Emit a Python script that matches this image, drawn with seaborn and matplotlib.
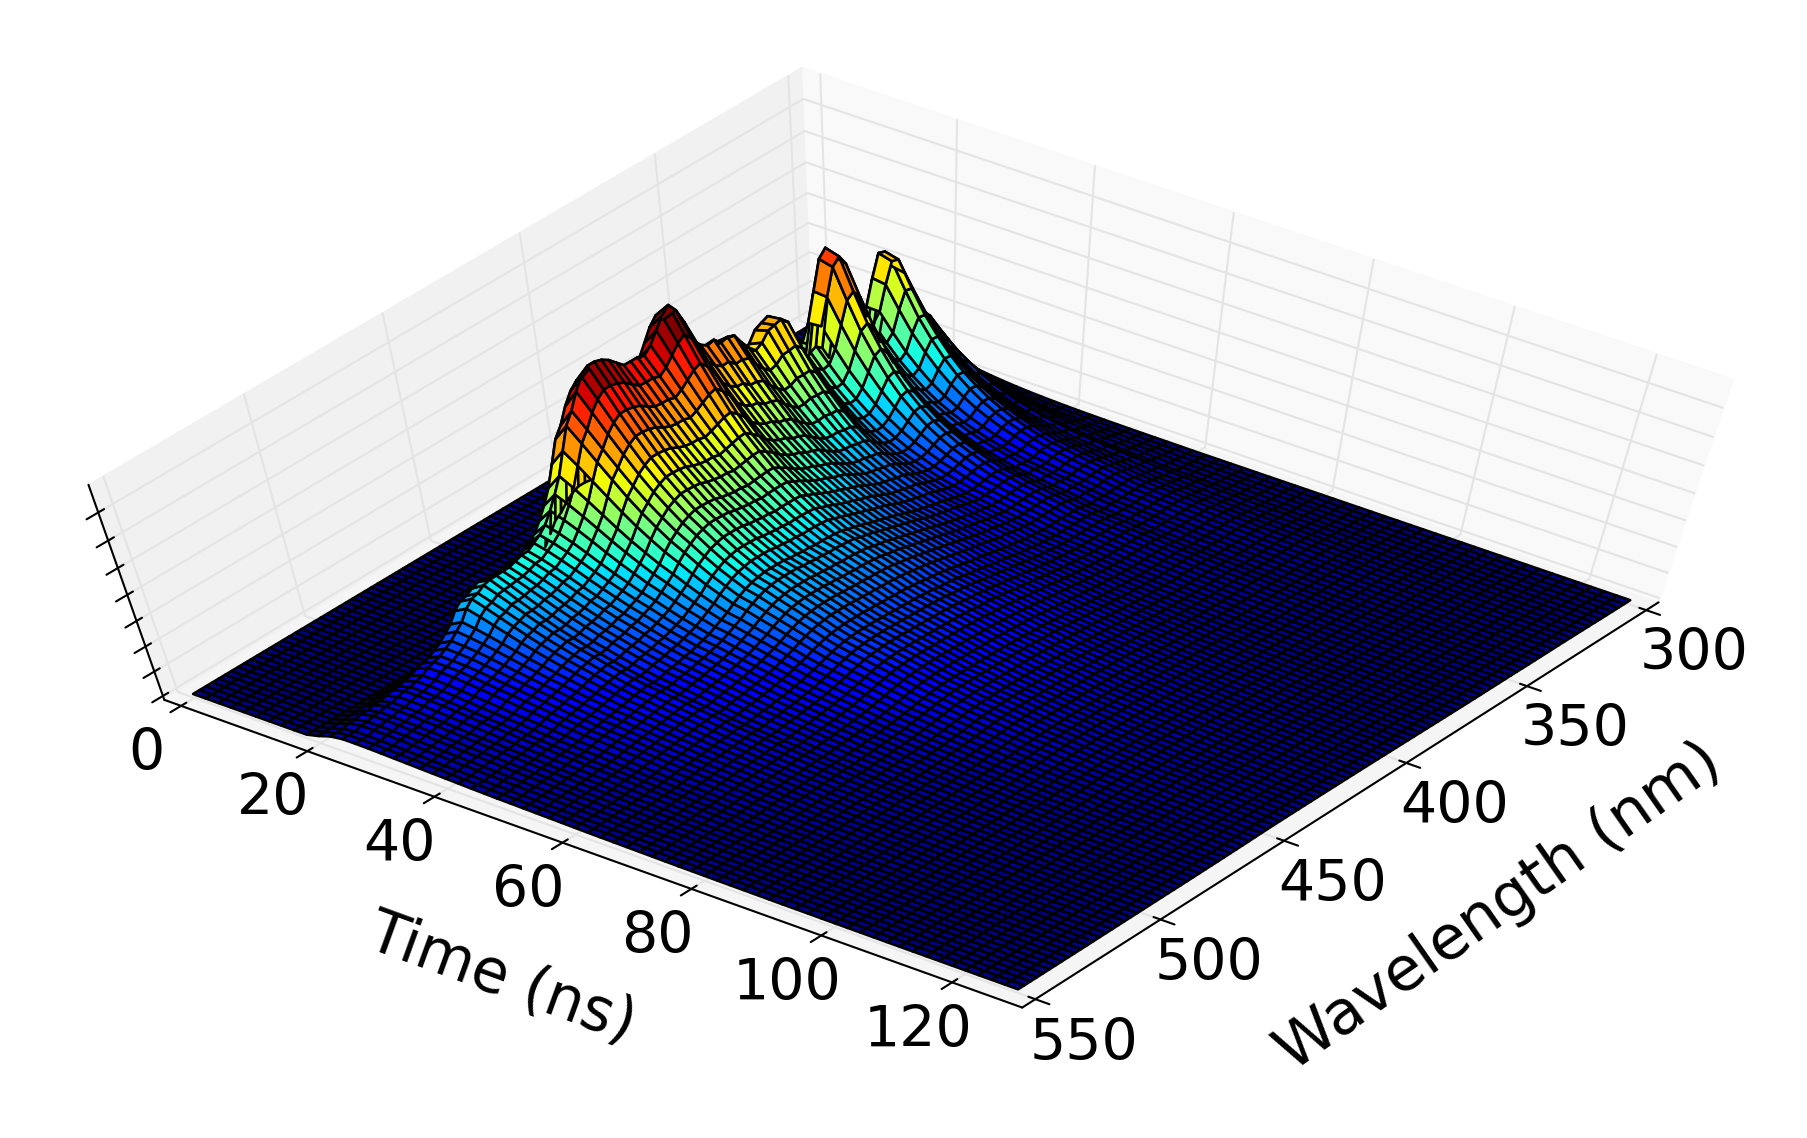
import numpy as np
import matplotlib
matplotlib.use('Agg')
import matplotlib.pyplot as plt
import seaborn as sns

# wavelength (nm) and time (ns) grids of the measurement
wavelength = np.arange(300, 552.5, 2.5)
time_ns = np.arange(0, 130, 2)

spectrum_fast = [.05, .06, .08, .14, .22, .28, .31, .34, .38, .44, .51, .58, .59, .50, .40, .36, .39, .48, .56, .67,
                 .71, .68, .56, .44, .37, .36, .38, .44, .52, .53, .51, .48, .42, .38, .39, .41, .44, .43, .40, .41,
                 .38, .38, .40, .49, .55, .57, .53, .47, .41, .38, .38, .38, .37, .40, .42, .44, .45, .45, .43, .39,
                 .34, .32, .25, .19, .15, .12, .10, .09, .09, .09, .10, .11, .11, .12, .14, .15, .13, .12, .12, .10,
                 .06, .04, .02, .01, 0, 0, 0, 0, 0, 0, 0, 0, 0, 0, 0, 0, 0, 0, 0, 0, 0]
spectrum_slow = [0, .01, .02, .03, .04, .05, .08, .09, .11, .13, .15, .16, .16, .16, .15, .15, .16, .15, .17, .19,
                 .20, .20, .20, .20, .20, .20, .21, .22, .23, .25, .26, .28, .30, .32, .34, .36, .38, .40, .42, .44,
                 .46, .48, .50, .51, .52, .54, .55, .56, .57, .57, .58, .58, .59, .59, .60, .60, .60, .60, .59, .58,
                 .56, .53, .50, .46, .43, .40, .37, .35, .33, .31, .30, .28, .27, .26, .24, .23, .24, .23, .22, .21,
                 .20, .19, .18, .17, .16, .15, .14, .12, .11, .10, .10, .09, .08, .08, .07, .07, .06, .06, .05, .05, .05]

# decay curves of both components
decay_fast = [0, 0, 0, 0, 0, 0, 0, 0, 0, .02, .5, 1.0, .92, .74, .58, .46, .36, .28, .22, .17, .13, .1, .08, .06, .045, .035,
              .025, .02, .015, .01, 0, 0, 0, 0, 0, 0, 0, 0, 0, 0, 0, 0, 0, 0, 0, 0, 0, 0, 0, 0, 0, 0, 0, 0, 0, 0, 0, 0, 0, 0, 0, 0, 0, 0, 0]
decay_slow = [0, 0, 0, 0, 0, 0, 0, 0, 0, .01, .35, .8, 1.0, 1.0, .98, .94, .89, .84, .79, .74, .70, .65, .60, .56, .52,
              .50, .47, .44, .41, .38, .35, .32, .30, .28, .26, .24, .22, .20, .18, .17, .155, .14, .13, .12, .11,
              .10, .09, .085, .08, .07, .065, .06, .055, .05, .045, .04, .04, .035, .035, .03, .03, .025, .025, .02, .02]

peak_height = 7.8
time_ticks = [0, 20, 40, 60, 80, 100, 120]
wavelength_ticks = [300, 350, 400, 450, 500, 550]
height_ticks = [0, 1, 2, 3, 4, 5, 6, 7]

sns.set_theme(style='white', rc={
    'font.family': 'DejaVu Sans', 'text.color': 'black', 'axes.labelcolor': 'black',
    'xtick.color': 'black', 'ytick.color': 'black', 'axes.edgecolor': 'black', 'axes.linewidth': 1.5,
    'grid.color': '#e4e4e4', 'grid.linewidth': 1.5, 'xtick.major.width': 1.5, 'ytick.major.width': 1.5,
})

heights = peak_height * (np.outer(decay_fast, spectrum_fast) + np.outer(decay_slow, spectrum_slow))
X, Y = np.meshgrid(wavelength, time_ns)

fig = plt.figure(figsize=(18.08, 11.38), dpi=100)
ax = fig.add_axes([0, 0, 1, 1], projection='3d')
ax.apply_aspect = lambda position=None: None  # the reference is stretched to its wide canvas
ax.set_box_aspect((1, 1, 1), zoom=np.sqrt(3) / (1.8294640721620434 * 25 / 24))
ax.view_init(elev=67, azim=37)
ax._dist = 9.6

# screen scale and offset in pixels, fitted to the box corners of the reference
a, b, c, e = 10733.9, 914.3, -5371.0, 546.6
xl, xr = ax.viewLim.intervalx
yl, yr = ax.viewLim.intervaly
ax.set_position([(b + a * xl) / 1808, (1138 - (e + c * yl)) / 1138, a * (xr - xl) / 1808, -c * (yr - yl) / 1138])

ax.plot_surface(X, Y, heights, rstride=1, cstride=1, cmap='jet',
                vmin=0, vmax=peak_height, edgecolor='black', linewidth=1.9, shade=False)

ax.set_xlim(300 - 250 / 48, 550 + 250 / 48)
ax.set_ylim(-128 / 48, 128 + 128 / 48)
ax.set_zlim(-peak_height / 48, peak_height + peak_height / 48)
ax.set_xticks(wavelength_ticks)
ax.set_yticks(time_ticks)
ax.set_zticks(height_ticks)
ax.set_zticklabels([])
ax.tick_params(axis='x', labelsize=41, pad=23)
ax.tick_params(axis='y', labelsize=41, pad=21)
# tick labels only move sideways from the axis, not down with the pad
ax.xaxis._axmask = lambda: [False, True, False]
ax.yaxis._axmask = lambda: [True, False, False]

# labels sit at a steeper angle than the axes in the reference
fig.text(1499 / 1808, 1 - 907 / 1138, 'Wavelength (nm)', fontsize=44, rotation=35, ha='center', va='center')
fig.text(501 / 1808, 1 - 979 / 1138, 'Time (ns)', fontsize=43, rotation=-20, ha='center', va='center')

ax.xaxis.set_pane_color((.975, .975, .975, 1))
ax.yaxis.set_pane_color((.945, .945, .945, 1))
ax.zaxis.set_pane_color((.9625, .9625, .9625, 1))

fig.savefig('out.png', dpi=100)
